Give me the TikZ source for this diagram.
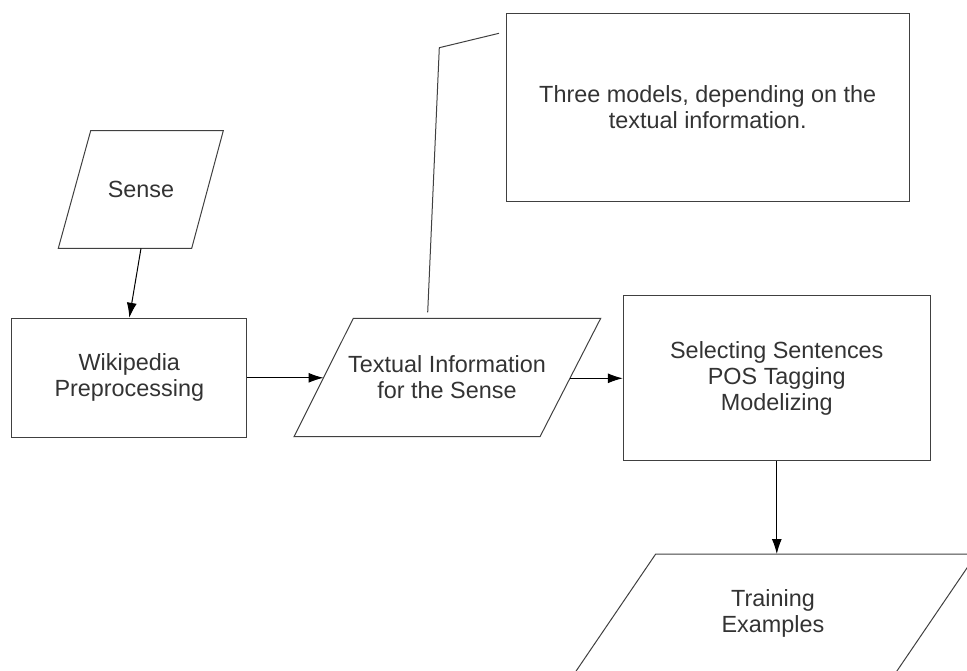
\documentclass[tikz,border=0pt]{standalone}
\usepackage{fontspec}
\setmainfont{Liberation Sans}
\usetikzlibrary{arrows.meta}
\definecolor{txt}{HTML}{333333}
\definecolor{ln}{HTML}{404040}
\begin{document}
\begin{tikzpicture}[x=1pt,y=-1pt,
  lbl/.style={text=txt, align=center, font=\fontsize{23.4}{26}\selectfont},
  box/.style={draw=ln, line width=1pt, inner sep=0pt},
  para/.style={draw=ln, line width=1pt, line join=miter},
  conn/.style={draw=black, line width=1pt, -{Latex[length=15pt,width=10pt]}},
  callout/.style={draw=ln, line width=1pt}]
\useasboundingbox (0,0) rectangle (967,671);
\clip (0,0) rectangle (967,671);

% boxes
\node[box, lbl, minimum width=235.3pt, minimum height=119pt] (wiki) at (129.3,377.8) {Wikipedia\\Preprocessing};
\node[box, lbl, minimum width=403.3pt, minimum height=188.4pt] (note) at (707.7,107.5) {Three models, depending on the\\textual information.};
\node[box, lbl, minimum width=307pt, minimum height=165.3pt] (sel) at (776.8,378.3) {Selecting Sentences\\POS Tagging\\Modelizing};

% parallelograms
\draw[para] (90.7,130.7) -- (223.3,130.7) -- (191.7,248.3) -- (58.3,248.3) -- cycle;
\node[lbl] (sense) at (141,189.5) {Sense};
\draw[para] (353.3,318.3) -- (600.7,318.3) -- (540,436.7) -- (294,436.7) -- cycle;
\node[lbl] (txtinfo) at (447,377.5) {Textual Information\\for the Sense};
\draw[para] (655.7,554) -- (976.5,554) -- (890.8,680) -- (570,680) -- cycle;
\node[lbl] (train) at (773,613) {Training\\Examples};

% connector end points
\coordinate (senseB) at (141,248.3);
\coordinate (txtW) at (323.5,377.8);
\coordinate (txtE) at (569.9,378.3);
\coordinate (trainT) at (776.8,554);
\coordinate (cA) at (427.7,312.3);
\coordinate (cB) at (439.3,47.7);
\coordinate (cC) at (499,33.3);

% connectors
\draw[conn] (senseB) -- (wiki.north);
\draw[conn] (wiki.east) -- (txtW);
\draw[conn] (txtE) -- (sel.west);
\draw[conn] (sel.south) -- (trainT);
\draw[callout] (cA) -- (cB) -- (cC);
\end{tikzpicture}
\end{document}
